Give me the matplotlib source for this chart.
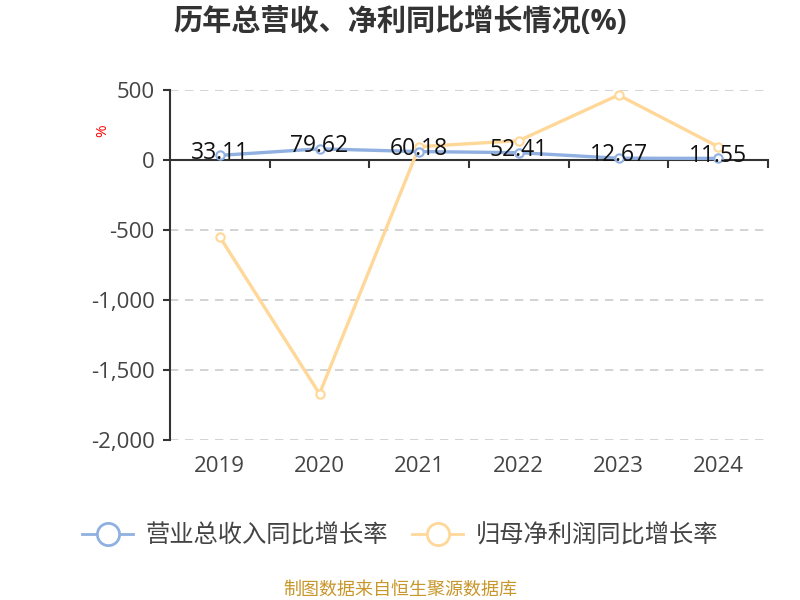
import matplotlib
matplotlib.use("Agg")
import matplotlib.pyplot as plt
from matplotlib.lines import Line2D
from matplotlib.ticker import FuncFormatter
import numpy as np

plt.rcParams['font.family'] = ['Open Sans', 'Noto Sans CJK SC', 'DejaVu Sans']

years = ["2019", "2020", "2021", "2022", "2023", "2024"]
revenue_growth = [33.11, 79.62, 60.18, 52.41, 12.67, 11.55]
profit_growth = [-550, -1670, 95, 138, 464, 95]
revenue_name = "营业总收入同比增长率"
profit_name = "归母净利润同比增长率"

blue = "#8fb0e0"
orange = "#ffd899"

fig = plt.figure(figsize=(8, 6), dpi=100)
ax = fig.add_axes([0.2125, 0.2667, 0.7475, 0.5833])

x = np.arange(len(years))
ax.plot(x, revenue_growth, color=blue, lw=2.4, marker="o", ms=6,
        mfc="white", mec=blue, mew=1.5, zorder=4)
ax.plot(x, profit_growth, color=orange, lw=2.4, marker="o", ms=6,
        mfc="white", mec=orange, mew=1.5, zorder=3)

for xi, v in zip(x, revenue_growth):
    ax.annotate(f"{v:.2f}", (xi, v), xytext=(0, 2), textcoords="offset points",
                ha="center", va="center", fontsize=16.5, color="#111111", zorder=5)

ax.set_xlim(-0.5, len(years) - 0.5)
ax.set_ylim(-2000, 500)
ax.set_yticks(np.arange(-2000, 501, 500))
ax.yaxis.set_major_formatter(FuncFormatter(lambda v, p: f"{int(v):,}"))
ax.tick_params(axis="y", length=5, width=1.5, color="#333333", labelsize=16,
               labelcolor="#444444", pad=6)
ax.grid(axis="y", ls=(0, (5, 4)), color="#cccccc", lw=1.2)

for s in ["top", "right"]:
    ax.spines[s].set_visible(False)
ax.spines["left"].set_color("#333333")
ax.spines["left"].set_linewidth(1.5)
ax.spines["bottom"].set_position(("data", 0))
ax.spines["bottom"].set_color("#333333")
ax.spines["bottom"].set_linewidth(1.5)

ax.set_xticks(np.arange(0.5, len(years), 1.0))
ax.set_xticklabels([])
ax.tick_params(axis="x", length=6, width=1.5, color="#333333", direction="out")
for xi, lab in zip(x, years):
    ax.text(xi, -0.075, lab, transform=ax.get_xaxis_transform(), ha="center",
            va="center", fontsize=16, color="#444444")

fig.text(0.129, 0.782, "%", color="red", fontsize=11, rotation=90,
         ha="center", va="center")

fig.text(0.5, 0.962, "历年总营收、净利同比增长情况(%)", ha="center", va="center",
         fontsize=21, fontweight="bold", color="#333333")

handles = [
    Line2D([], [], color=blue, lw=2, marker="o", ms=16, mfc="white", mec=blue, mew=2),
    Line2D([], [], color=orange, lw=2, marker="o", ms=16, mfc="white", mec=orange, mew=2),
]
fig.legend(handles, [revenue_name, profit_name], loc="center",
           bbox_to_anchor=(0.5, 0.105), ncol=2, frameon=False, fontsize=17.5,
           handlelength=2.1, columnspacing=1.0, handletextpad=0.5,
           labelcolor="#444444")

fig.text(0.5, 0.017, "制图数据来自恒生聚源数据库", ha="center", va="center",
         fontsize=13, color="#c8962a")

fig.savefig("out.png", dpi=100)
